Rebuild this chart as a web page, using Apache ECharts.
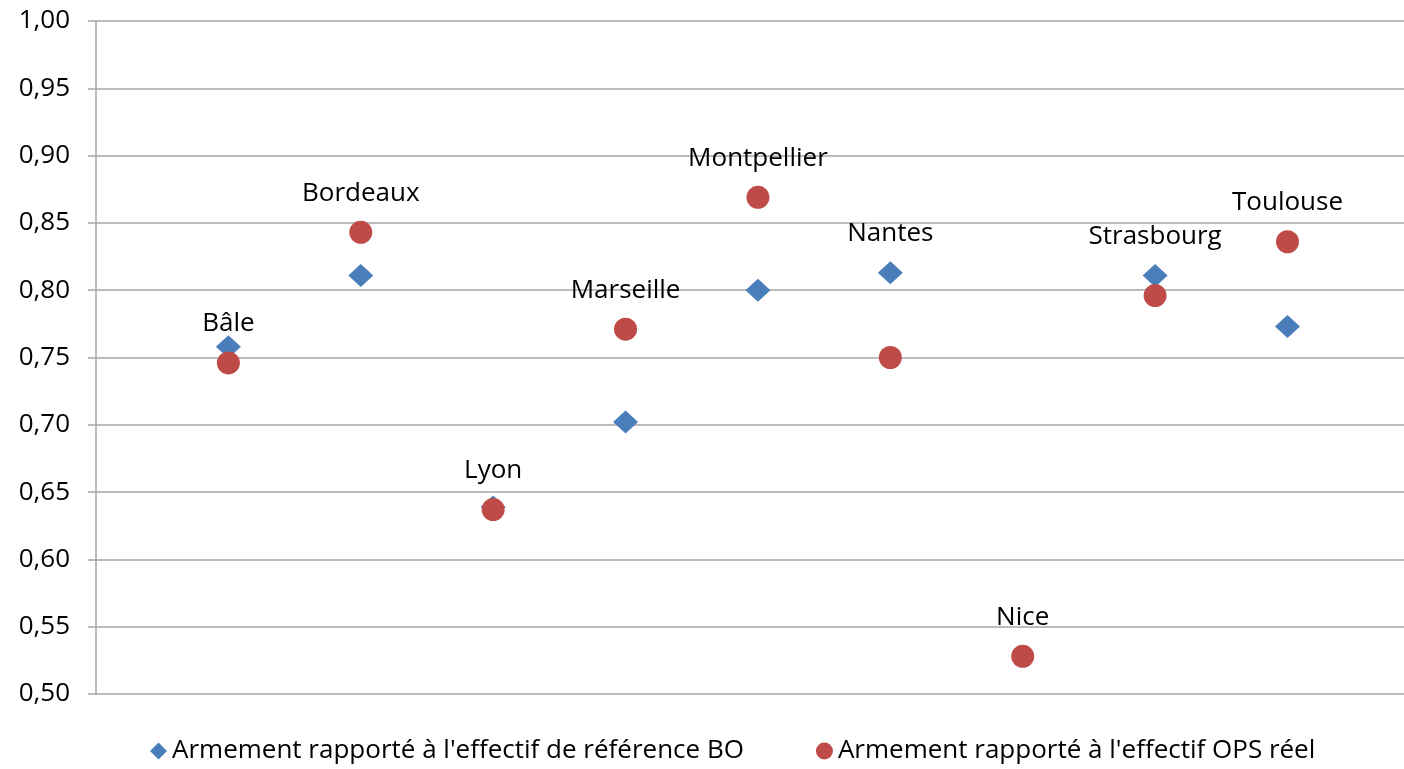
<!DOCTYPE html>
<html>
<head>
<meta charset="utf-8">
<title>Armement</title>
<script src="https://cdn.jsdelivr.net/npm/echarts@6/dist/echarts.min.js"></script>
<style>
  html, body { margin: 0; padding: 0; background: #fff; }
  #chart { width: 1404px; height: 769px; }
</style>
</head>
<body>
<div id="chart"></div>
<script>
  // villes (placées à 1..9 sur l'axe x)
  var cities = ['Bâle', 'Bordeaux', 'Lyon', 'Marseille', 'Montpellier', 'Nantes', 'Nice', 'Strasbourg', 'Toulouse'];
  // armement / effectif de référence BO
  var refBO = [0.758, 0.811, 0.639, 0.702, 0.800, 0.813, null, 0.811, 0.773];
  // armement / effectif OPS réel
  var opsReel = [0.746, 0.843, 0.637, 0.771, 0.869, 0.750, 0.528, 0.796, 0.836];
  // série qui porte le nom de la ville
  var labelOn = ['ops', 'ops', 'ops', 'ops', 'ops', 'bo', 'ops', 'bo', 'ops'];
  var yTicks = { min: 0.5, max: 1.0, interval: 0.05 };

  var seriesNames = ["Armement rapporté à l'effectif de référence BO", "Armement rapporté à l'effectif OPS réel"];
  var font = 'Open Sans';

  function buildData(values, key) {
    var out = [];
    values.forEach(function (v, i) {
      if (v === null) return;
      out.push({
        value: [i + 1, v],
        name: cities[i],
        label: { show: labelOn[i] === key }
      });
    });
    return out;
  }

  var labelStyle = {
    position: 'inside',
    offset: [0, -39],
    formatter: '{b}',
    color: '#000',
    opacity: 1,
    fontFamily: font,
    fontSize: 26
  };

  var chart = echarts.init(document.getElementById('chart'));
  chart.setOption({
    animation: false,
    grid: { left: 96, right: 0, top: 21, bottom: 75 },
    legend: {
      left: 145,
      top: 733,
      itemWidth: 17,
      itemHeight: 17,
      itemGap: 72,
      textStyle: { color: '#000', fontFamily: font, fontSize: 26 },
      data: [
        { name: seriesNames[0], icon: 'diamond' },
        { name: seriesNames[1], icon: 'circle' }
      ]
    },
    xAxis: {
      type: 'value',
      min: 0,
      max: 9.88,
      axisLine: { show: false },
      axisTick: { show: false },
      axisLabel: { show: false },
      splitLine: { show: false }
    },
    yAxis: {
      type: 'value',
      min: yTicks.min,
      max: yTicks.max,
      interval: yTicks.interval,
      axisLine: { show: true, lineStyle: { color: '#a6a6a6', width: 1.5 } },
      axisTick: { show: true, length: 8, lineStyle: { color: '#a6a6a6', width: 1.5 } },
      axisLabel: {
        margin: 26,
        color: '#000',
        fontFamily: font,
        fontSize: 26,
        formatter: function (v) { return v.toFixed(2).replace('.', ','); }
      },
      splitLine: { show: true, lineStyle: { color: '#a6a6a6', width: 1.5 } }
    },
    series: [
      {
        name: seriesNames[0],
        type: 'scatter',
        symbol: 'diamond',
        symbolSize: [25, 23],
        itemStyle: { color: '#4a7ebb', opacity: 1 },
        label: labelStyle,
        data: buildData(refBO, 'bo'),
        z: 2
      },
      {
        name: seriesNames[1],
        type: 'scatter',
        symbol: 'circle',
        symbolSize: 23,
        itemStyle: { color: '#be4b48', opacity: 1 },
        label: labelStyle,
        data: buildData(opsReel, 'ops'),
        z: 3
      }
    ]
  });
</script>
</body>
</html>
